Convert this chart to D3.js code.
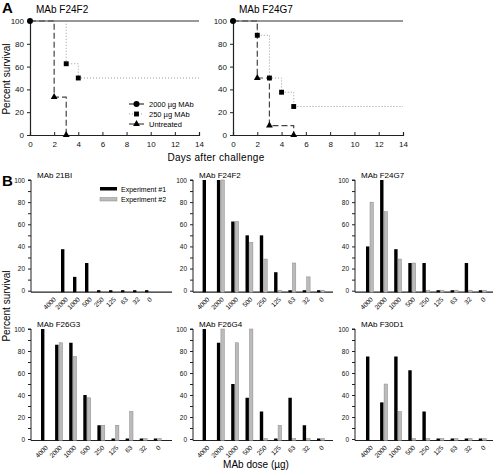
<!DOCTYPE html>
<html><head><meta charset="utf-8">
<script src="https://cdn.jsdelivr.net/npm/d3@7"></script>
<style>body{margin:0;background:#fff}svg{display:block;font-family:"Liberation Sans",Arial,sans-serif}</style>
</head><body><svg id="c" width="498" height="470"></svg>
<script>
// ---- Panel A data (Kaplan-Meier steps) ----
const daysTicks = [0,2,4,6,8,10,12,14];
const pctTicks = [0,20,40,60,80,100];
const seriesNames = ["2000 \u00b5g MAb","250 \u00b5g MAb","Untreated"];
const f24f2_2000_days = [0,14], f24f2_2000_vals = [100,100], f24f2_2000_marks = [0];
const f24f2_250_days = [0,3,4,14], f24f2_250_vals = [100,62.5,50,50], f24f2_250_marks = [3,4];
const f24f2_unt_days = [0,2,3], f24f2_unt_vals = [100,33.3,0], f24f2_unt_marks = [2,3];
const f24g7_2000_days = [0,14], f24g7_2000_vals = [100,100], f24g7_2000_marks = [0];
const f24g7_250_days = [0,2,3,4,5,14], f24g7_250_vals = [100,87.5,50,37.5,25,25], f24g7_250_marks = [2,3,4,5];
const f24g7_unt_days = [0,2,3,5], f24g7_unt_vals = [100,50,8.3,0], f24g7_unt_marks = [2,3,5];

// ---- Panel B data ----
const doses = ["4000","2000","1000","500","250","125","63","32","0"];
const expNames = ["Experiment #1","Experiment #2"];
const bTicks = [0,10,20,30,40,50,60,70,80,90,100];
const exp1_21BI  = [null,37.5,12.5,25,0,0,0,0,0];
const exp2_21BI  = [null,null,null,null,null,null,null,null,null];
const exp1_F24F2 = [100,100,62.5,50,50,16.7,0,0,0];
const exp2_F24F2 = [null,100,62.5,43.75,28.6,0,25,12.5,0];
const exp1_F24G7 = [40,100,37.5,25,25,0,0,25,0];
const exp2_F24G7 = [80,71.4,28.6,25,0,0,0,0,0];
const exp1_F26G3 = [100,85.7,87.5,40,12.5,0,0,0,0];
const exp2_F26G3 = [null,87.5,75,37.5,12.5,12.5,25,0,0];
const exp1_F26G4 = [100,87.5,50,37.5,25,0,37.5,12.5,0];
const exp2_F26G4 = [null,100,87.5,100,0,12.5,0,0,0];
const exp1_F30D1 = [75,33.3,75,62.5,25,0,0,0,0];
const exp2_F30D1 = [null,50,25,0,0,0,0,0,0];

const svg = d3.select("#c");
const dark = "#222";

// ---------- Panel A ----------
svg.append("text").attr("x",2).attr("y",13).attr("font-size",15).attr("font-weight","bold").text("A");
svg.append("text").attr("x",216).attr("y",161).attr("font-size",10).attr("text-anchor","middle").attr("letter-spacing",0.3).text("Days after challenge");
svg.append("text").attr("transform","translate(10,79) rotate(-90)").attr("font-size",10).attr("text-anchor","middle").text("Percent survival");

function kmPanel(x0, x1, title, series, legend){
  const x = d3.scaleLinear().domain([0,14]).range([x0,x1]);
  const y = d3.scaleLinear().domain([0,100]).range([135,21]);
  const g = svg.append("g");
  g.append("text").attr("x",x0+6).attr("y",13).attr("font-size",10).text(title);
  const xa = g.append("g").attr("transform","translate(0,135)").call(d3.axisBottom(x).tickValues(daysTicks).tickSize(-3).tickPadding(6));
  const ya = g.append("g").attr("transform",`translate(${x0},0)`).call(d3.axisLeft(y).tickValues(pctTicks).tickSize(3).tickPadding(3));
  [xa,ya].forEach(a=>{a.select(".domain").attr("stroke",dark).attr("stroke-width",1.2);a.selectAll(".tick line").attr("stroke",dark);a.selectAll("text").attr("font-size",8).attr("fill","#111").attr("font-family","Liberation Sans, Arial, sans-serif");});
  const styles = [
    {stroke:"#333", dash:null, w:1.2, sym:d3.symbolCircle, size:28},
    {stroke:"#999", dash:"1,2", w:1, sym:d3.symbolSquare, size:24},
    {stroke:"#444", dash:"6,3", w:1.2, sym:d3.symbolTriangle, size:20}
  ];
  const line = d3.line().x(d=>x(d[0])).y(d=>y(d[1])).curve(d3.curveStepAfter);
  series.forEach((s,i)=>{
    const pts = s.days.map((d,j)=>[d,s.vals[j]]);
    g.append("path").attr("d",line(pts)).attr("fill","none").attr("stroke",styles[i].stroke).attr("stroke-width",styles[i].w).attr("stroke-dasharray",styles[i].dash);
  });
  series.forEach((s,i)=>{
    s.marks.forEach(m=>{
      const v = s.vals[s.days.indexOf(m)];
      g.append("path").attr("d",d3.symbol().type(styles[i].sym).size(styles[i].size)()).attr("transform",`translate(${x(m)},${y(v)})`).attr("fill","#000");
    });
  });
  if(legend){
    seriesNames.forEach((n,i)=>{
      const ly = 104+i*10;
      g.append("line").attr("x1",129).attr("x2",144).attr("y1",ly).attr("y2",ly).attr("stroke",styles[i].stroke).attr("stroke-width",styles[i].w).attr("stroke-dasharray",i==2?null:styles[i].dash);
      g.append("path").attr("d",d3.symbol().type(styles[i].sym).size(styles[i].size)()).attr("transform",`translate(136.5,${ly})`).attr("fill","#000");
      g.append("text").attr("x",149).attr("y",ly+3).attr("font-size",7.5).text(n);
    });
  }
}
kmPanel(30,199,"MAb F24F2",[
  {days:f24f2_2000_days,vals:f24f2_2000_vals,marks:f24f2_2000_marks},
  {days:f24f2_250_days,vals:f24f2_250_vals,marks:f24f2_250_marks},
  {days:f24f2_unt_days,vals:f24f2_unt_vals,marks:f24f2_unt_marks}],true);
kmPanel(233,403,"MAb F24G7",[
  {days:f24g7_2000_days,vals:f24g7_2000_vals,marks:f24g7_2000_marks},
  {days:f24g7_250_days,vals:f24g7_250_vals,marks:f24g7_250_marks},
  {days:f24g7_unt_days,vals:f24g7_unt_vals,marks:f24g7_unt_marks}],false);

// ---------- Panel B ----------
svg.append("text").attr("x",2).attr("y",186).attr("font-size",15).attr("font-weight","bold").text("B");
svg.append("text").attr("transform","translate(10,306) rotate(-90)").attr("font-size",10).attr("text-anchor","middle").text("Percent survival");
svg.append("text").attr("x",256).attr("y",468).attr("font-size",10).attr("text-anchor","middle").text("MAb dose (\u00b5g)");

function barPanel(ax, axEnd, c0, sp, yTop, yZero, title, e1, e2, legend){
  const x = d3.scalePoint().domain(doses).range([c0, c0+8*sp]);
  const y = d3.scaleLinear().domain([0,100]).range([yZero,yTop]);
  const base = yZero+1.5;
  const g = svg.append("g");
  g.append("text").attr("x",ax+6).attr("y",yTop-2).attr("font-size",8).text(title);
  const ya = g.append("g").attr("transform",`translate(${ax},0)`).call(d3.axisLeft(y).tickValues(bTicks).tickSize(3).tickPadding(3).tickFormat(d=>d%20===0?d:""));
  ya.select(".domain").attr("d",`M-3,${y(100)}H0V${base}`).attr("stroke",dark);
  ya.selectAll(".tick line").attr("stroke",dark);
  ya.selectAll("text").attr("font-size",6.5).attr("fill","#111").attr("font-family","Liberation Sans, Arial, sans-serif");
  g.append("line").attr("x1",ax).attr("x2",axEnd).attr("y1",base).attr("y2",base).attr("stroke",dark).attr("stroke-width",1.2);
  const bw = 3.4;
  const draw = (vals, off, fill, stroke)=>{
    g.selectAll(null).data(doses.map((d,i)=>({d,v:vals[i]})).filter(o=>o.v!==null)).join("rect")
      .attr("x",o=>x(o.d)+off-bw/2).attr("width",bw)
      .attr("y",o=>Math.min(y(o.v), base-2)).attr("height",o=>base-Math.min(y(o.v), base-2))
      .attr("fill",fill).attr("stroke",stroke).attr("stroke-width",stroke?0.5:0);
  };
  draw(e1,-2,"#000",null);
  draw(e2,2,"#bbb","#8a8a8a");
  g.selectAll(null).data(doses).join("text")
    .attr("transform",d=>`translate(${x(d)+2},${base+6}) rotate(-45)`)
    .attr("text-anchor","end").attr("dy","0.35em").attr("font-size",6.5).text(d=>d);
  if(legend){
    g.append("rect").attr("x",100).attr("y",187).attr("width",17).attr("height",3.5).attr("fill","#000");
    g.append("rect").attr("x",100).attr("y",197.5).attr("width",17).attr("height",3.5).attr("fill","#bbb").attr("stroke","#8a8a8a").attr("stroke-width",0.5);
    expNames.forEach((n,i)=>g.append("text").attr("x",121).attr("y",191.5+i*10.5).attr("font-size",7).text(n));
  }
}
barPanel(31,172,52.7,12,180,290.7,"MAb 21BI",exp1_21BI,exp2_21BI,true);
barPanel(193,333,206.3,14.3,180,290.7,"MAb F24F2",exp1_F24F2,exp2_F24F2,false);
barPanel(355,493,369.7,14.1,180,290.7,"MAb F24G7",exp1_F24G7,exp2_F24G7,false);
barPanel(31,172,44.7,14.1,329,439,"MAb F26G3",exp1_F26G3,exp2_F26G3,false);
barPanel(193,333,206.3,14.3,329,439,"MAb F26G4",exp1_F26G4,exp2_F26G4,false);
barPanel(355,493,369.7,14.1,329,439,"MAb F30D1",exp1_F30D1,exp2_F30D1,false);
</script></body></html>
